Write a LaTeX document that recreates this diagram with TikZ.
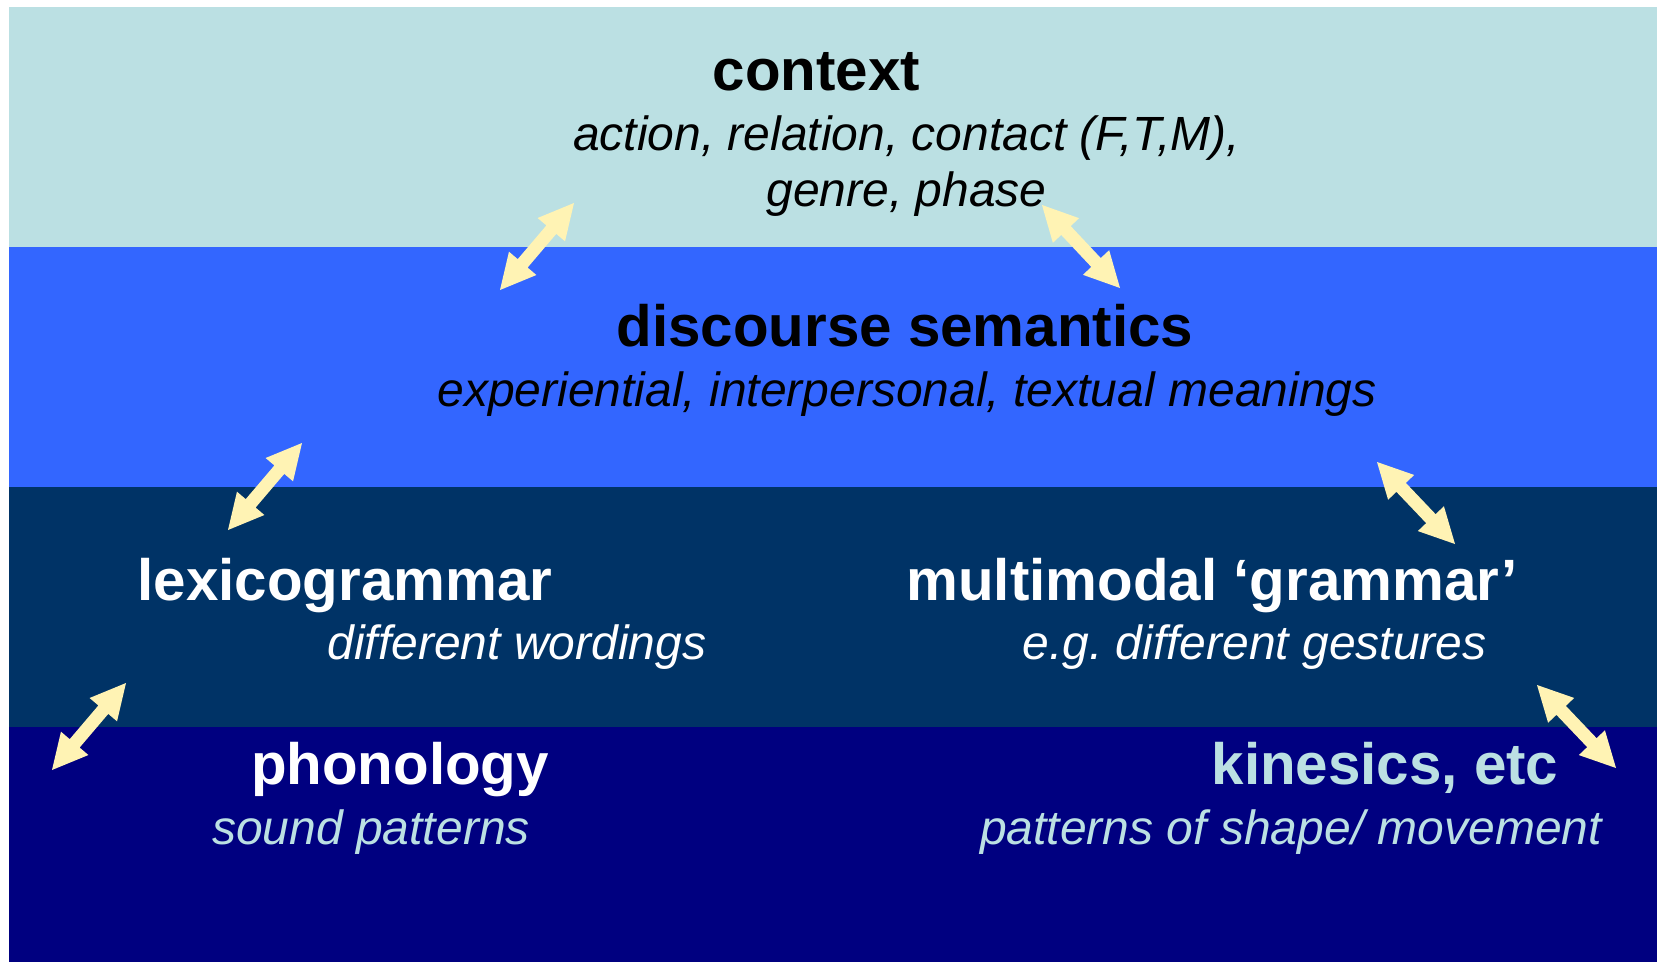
\documentclass[tikz,border=0pt]{standalone}
\usepackage{fontspec}
\setmainfont{Liberation Sans}
\usetikzlibrary{calc}
\frenchspacing
\definecolor{ctxbg}{RGB}{187,224,227}
\definecolor{sembg}{RGB}{51,102,255}
\definecolor{lexbg}{RGB}{0,51,102}
\definecolor{phonbg}{RGB}{0,0,128}
\definecolor{yarrowfill}{RGB}{255,243,180}
\tikzset{
  band/.style={fill=#1, draw=none},
  ttl/.style={anchor=base, inner sep=0pt, font=\fontsize{58.3}{60}\selectfont\bfseries},
  sub/.style={anchor=base, inner sep=0pt, font=\fontsize{48}{50}\selectfont\itshape},
}
\newcommand\yarrow[2]{%
  \coordinate (ya) at ($(#1)!35pt!(#2)$);
  \coordinate (yb) at ($(#2)!35pt!(#1)$);
  \fill[yarrowfill] (#1) -- ($(ya)!18pt!90:(#2)$) -- ($(ya)!6.5pt!90:(#2)$)
    -- ($(yb)!6.5pt!-90:(#1)$) -- ($(yb)!18pt!-90:(#1)$) -- (#2)
    -- ($(yb)!18pt!90:(#1)$) -- ($(yb)!6.5pt!90:(#1)$)
    -- ($(ya)!6.5pt!-90:(#2)$) -- ($(ya)!18pt!-90:(#2)$) -- cycle;
}
\begin{document}
\begin{tikzpicture}[x=1pt,y=-1pt]
\useasboundingbox (0,0) rectangle (1657,962);
% bands
\fill[band=ctxbg]  (9,7)   rectangle (1657,247);
\fill[band=sembg]  (9,247) rectangle (1657,487);
\fill[band=lexbg]  (9,487) rectangle (1657,727);
\fill[band=phonbg] (9,727) rectangle (1657,962);
% texts
\node[ttl] (ctx) at (816.5,90) {context};
\node[sub] (ctx1) at (906.5,150) {action, relation, contact (F,T,M),};
\node[sub] (ctx2) at (906.5,206) {genre, phase};
\node[ttl] (sem) at (905,346) {discourse semantics};
\node[sub] (sem1) at (907,406) {experiential, interpersonal, textual meanings};
\node[ttl, text=white] (lex) at (345,600) {lexicogrammar};
\node[sub, text=white] (lex1) at (517,659) {different wordings};
\node[ttl, text=white] (mm) at (1212,600) {multimodal ‘grammar’};
\node[sub, text=white] (mm1) at (1254.5,659) {e.g. different gestures};
\node[ttl, text=white] (phon) at (400,784) {phonology};
\node[sub, text=ctxbg] (phon1) at (371,844) {sound patterns};
\node[ttl, text=ctxbg] (kin) at (1385,784) {kinesics, etc};
\node[sub, text=ctxbg] (kin1) at (1291,844) {patterns of shape/ movement};
% arrow end points
\coordinate (a1) at (574,203);  \coordinate (b1) at (500,290);
\coordinate (a2) at (1042,205); \coordinate (b2) at (1120,288);
\coordinate (a3) at (302,443);  \coordinate (b3) at (228,530);
\coordinate (a4) at (1377,462); \coordinate (b4) at (1455,544);
\coordinate (a5) at (126,683);  \coordinate (b5) at (52,770);
\coordinate (a6) at (1537,685); \coordinate (b6) at (1616,768);
\yarrow{a1}{b1}
\yarrow{a2}{b2}
\yarrow{a3}{b3}
\yarrow{a4}{b4}
\yarrow{a5}{b5}
\yarrow{a6}{b6}
\end{tikzpicture}
\end{document}
